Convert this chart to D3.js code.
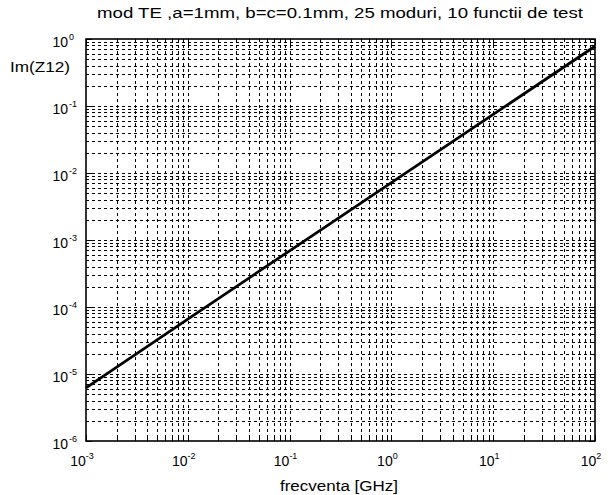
<!DOCTYPE html>
<html><head><meta charset="utf-8">
<script src="https://cdn.jsdelivr.net/npm/d3@7"></script>
<style>body{margin:0;background:#fff}svg{display:block}text{font-family:"Liberation Sans",Arial,sans-serif;fill:#000}</style>
</head><body><svg id="c" width="608" height="495"></svg>
<script>
const freq = [1e-3, 1e-2, 1e-1, 1, 10, 100];
const imZ12 = [6.2e-6, 6.6e-5, 6.9e-4, 7.2e-3, 7.5e-2, 0.78];
const xTickExps = [-3, -2, -1, 0, 1, 2];
const yTickExps = [-6, -5, -4, -3, -2, -1, 0];
const titleText = "mod TE ,a=1mm, b=c=0.1mm, 25 moduri, 10 functii de test";
const xLabel = "frecventa [GHz]";
const yLabel = "Im(Z12)";

const svg = d3.select("#c");
const L = 86, R = 595, T = 39, B = 441;
const x = d3.scaleLog().domain([1e-3, 1e2]).range([L, R]);
const y = d3.scaleLog().domain([1e-6, 1e0]).range([B, T]);

function minorTicks(lo, hi) {
  const out = [];
  for (let e = lo; e < hi; e++) for (let m = 1; m <= 9; m++) out.push(m * Math.pow(10, e));
  out.push(Math.pow(10, hi));
  return out;
}
const xAll = minorTicks(-3, 2), yAll = minorTicks(-6, 0);

const grid = svg.append("g").attr("stroke", "#000").attr("stroke-width", 1).attr("stroke-dasharray", "3,3");
grid.selectAll(".vx").data(xAll.filter(v => v > 1e-3 && v < 1e2)).enter().append("line")
  .attr("x1", d => Math.round(x(d)) + 0.5).attr("x2", d => Math.round(x(d)) + 0.5).attr("y1", T).attr("y2", B);
grid.selectAll(".hy").data(yAll.filter(v => v > 1e-6 && v < 1)).enter().append("line")
  .attr("y1", d => Math.round(y(d)) + 0.5).attr("y2", d => Math.round(y(d)) + 0.5).attr("x1", L).attr("x2", R);

// ticks (inside, all sides)
const tk = svg.append("g").attr("stroke", "#000").attr("stroke-width", 1);
const isMajor = v => Math.abs(Math.log10(v) - Math.round(Math.log10(v))) < 1e-9;
xAll.forEach(v => {
  const px = Math.round(x(v)) + 0.5, len = isMajor(v) ? 6 : 3;
  tk.append("line").attr("x1", px).attr("x2", px).attr("y1", B).attr("y2", B - len);
  tk.append("line").attr("x1", px).attr("x2", px).attr("y1", T).attr("y2", T + len);
});
yAll.forEach(v => {
  const py = Math.round(y(v)) + 0.5, len = isMajor(v) ? 6 : 3;
  tk.append("line").attr("y1", py).attr("y2", py).attr("x1", L).attr("x2", L + len);
  tk.append("line").attr("y1", py).attr("y2", py).attr("x1", R).attr("x2", R - len);
});

// data line
svg.append("path").datum(freq.map((f, i) => [f, imZ12[i]]))
  .attr("fill", "none").attr("stroke", "#000").attr("stroke-width", 2.8)
  .attr("d", d3.line().x(d => x(d[0])).y(d => y(d[1])));

// box
svg.append("rect").attr("x", L).attr("y", T).attr("width", R - L).attr("height", B - T)
  .attr("fill", "none").attr("stroke", "#000").attr("stroke-width", 1.6);

// tick labels
const fs = 14;
xTickExps.forEach(e => {
  const t = svg.append("text").attr("x", x(Math.pow(10, e)) - 4).attr("y", 466).attr("text-anchor", "middle").attr("font-size", fs);
  t.append("tspan").text("10");
  t.append("tspan").attr("font-size", 9).attr("dy", -7).text(e);
});
yTickExps.forEach(e => {
  const t = svg.append("text").attr("x", 68).attr("y", y(Math.pow(10, e)) + 8).attr("text-anchor", "end").attr("font-size", fs);
  t.text("10");
  svg.append("text").attr("x", 69).attr("y", y(Math.pow(10, e)) + 1).attr("font-size", 9).text(e);
});

svg.append("text").attr("x", 340).attr("y", 18).attr("text-anchor", "middle").attr("font-size", 14)
  .attr("textLength", 486).attr("lengthAdjust", "spacingAndGlyphs").text(titleText);
svg.append("text").attr("x", 339).attr("y", 491).attr("text-anchor", "middle").attr("font-size", 14)
  .attr("textLength", 118).attr("lengthAdjust", "spacingAndGlyphs").text(xLabel);
svg.append("text").attr("x", 10).attr("y", 72).attr("font-size", 14)
  .attr("textLength", 60).attr("lengthAdjust", "spacingAndGlyphs").text(yLabel);
</script></body></html>
